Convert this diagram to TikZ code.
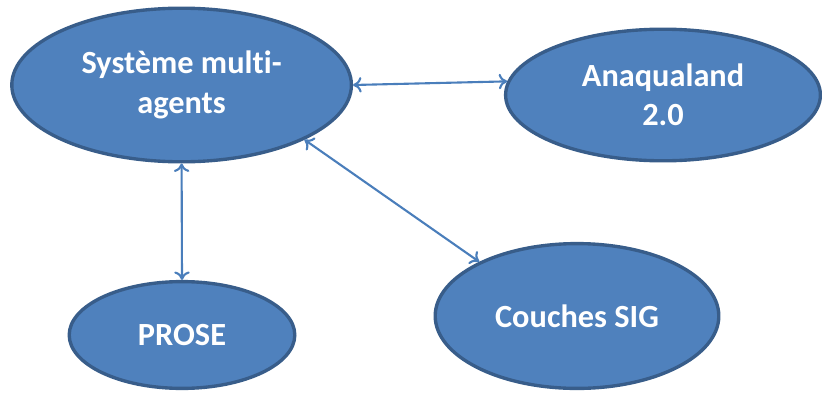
\documentclass[tikz,border=0pt]{standalone}
\usepackage{fontspec}
\setmainfont[Ligatures=NoCommon]{Carlito}
\usepackage{tikz}
\usetikzlibrary{shapes.geometric,arrows.meta,calc}
\definecolor{bubblefill}{HTML}{4F81BD}
\definecolor{bubbleline}{HTML}{385D8A}
\definecolor{linkblue}{HTML}{4A7EBB}

\begin{document}
\begin{tikzpicture}[line width=1.5pt, scale=1,
                bubble/.style={ellipse, fill=bubblefill, draw=bubbleline, line width=2.4pt,
                    text=white, font=\fontsize{23}{28}\selectfont\bfseries,
                    align=center, inner sep=0pt},
                link/.style={draw=linkblue, {To[length=6pt,width=11pt]}-{To[length=6pt,width=11pt]}}
            ]
                \useasboundingbox (0,0) rectangle (20.55,9.8);

% --- coordinates (centres of the bubbles) ---
                \coordinate (S) at (4.54,7.675);   % multi-agent system
                \coordinate (A) at (16.575,7.425); % Anaqualand
                \coordinate (P) at (4.55,1.425);   % PROSE
                \coordinate (C) at (14.425,1.9);   % SIG layers

% --- bubbles ---
                \node[bubble, minimum width=8.49cm, minimum height=3.84cm] (sma) at (S) {Système multi-\\agents};
                \node[bubble, minimum width=7.87cm, minimum height=3.29cm] (ana) at (A) {Anaqualand\\2.0};
                \node[bubble, minimum width=5.64cm, minimum height=2.67cm] (prose) at (P) {PROSE};
                \node[bubble, minimum width=7.09cm, minimum height=3.62cm] (sig) at (C) {Couches SIG};

% --- links ---
                \draw[link] (sma.east)--(ana.175);
                \draw[link] (sma.south)--(prose.north);
                \draw[link] (sma.-24)--(sig.151);

            \end{tikzpicture}
\end{document}
